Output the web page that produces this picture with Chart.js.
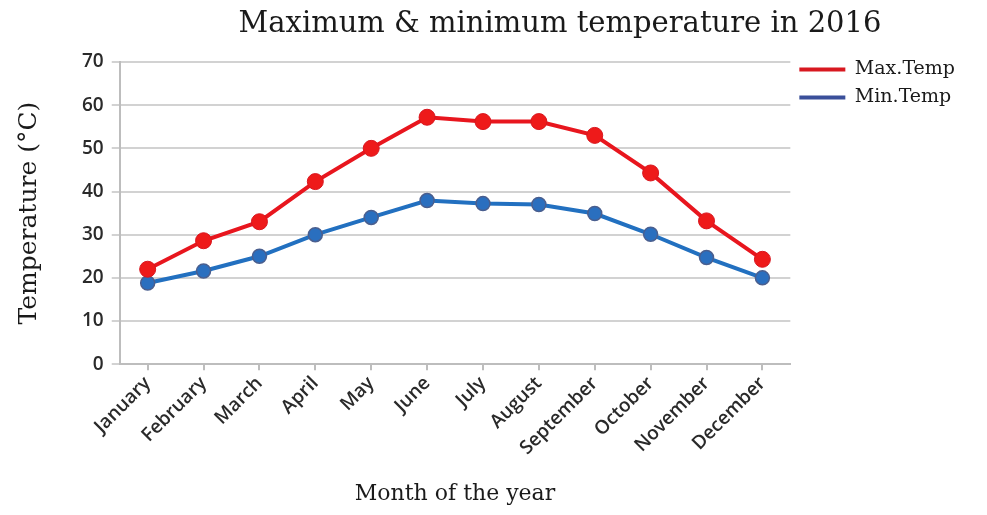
<!DOCTYPE html>
<html lang="en">
<head>
<meta charset="UTF-8">
<title>Maximum &amp; minimum temperature in 2016</title>
<script src="https://cdn.jsdelivr.net/npm/chart.js"></script>
<style>
  body { margin: 0; background: #fff; }
</style>
</head>
<body>
<canvas id="tempChart" width="987" height="515"></canvas>
<script>
// data
const months = ['January', 'February', 'March', 'April', 'May', 'June', 'July', 'August', 'September', 'October', 'November', 'December'];
const maxTemp = [22, 28.6, 33, 42.3, 50, 57.2, 56.2, 56.2, 53, 44.3, 33.2, 24.3];
const minTemp = [18.8, 21.6, 25, 30, 34, 37.9, 37.2, 37, 34.9, 30.1, 24.7, 20];
const chartTitle = 'Maximum & minimum temperature in 2016';

// title sits right of centre in the original, so draw it ourselves
const offsetTitle = {
    id: 'offsetTitle',
    afterLayout(chart) {
        // legend starts a bit above the plot in the original
        chart.legend.top -= 11;
        chart.legend.bottom -= 11;
    },
    afterDraw(chart) {
        const ctx = chart.ctx;
        ctx.save();
        ctx.font = '29px "DejaVu Serif"';
        ctx.fillStyle = '#1a1a1a';
        ctx.textAlign = 'center';
        ctx.textBaseline = 'middle';
        ctx.fillText(chartTitle, 560, 24);
        ctx.restore();
    }
};

const ctx = document.getElementById('tempChart').getContext('2d');
const tempChart = new Chart(ctx, {
    type: 'line',
    data: {
        labels: months,
        datasets: [{
            label: 'Max.Temp',
            data: maxTemp,
            borderColor: '#e8161e',
            backgroundColor: '#e8161e',
            pointBackgroundColor: '#ee1a1a',
            pointBorderColor: '#d8161e',
            borderWidth: 4,
            pointRadius: 8,
            pointBorderWidth: 1,
            tension: 0
        }, {
            label: 'Min.Temp',
            data: minTemp,
            borderColor: '#2270c0',
            backgroundColor: '#3a4f9a',
            pointBackgroundColor: '#2a6fbf',
            pointBorderColor: '#4a5f8f',
            borderWidth: 4,
            pointRadius: 7,
            pointBorderWidth: 1.5,
            tension: 0
        }]
    },
    options: {
        responsive: false,
        animation: false,
        layout: {
            padding: { top: 62, left: 14, right: 22, bottom: 4 }
        },
        plugins: {
            legend: {
                position: 'right',
                align: 'start',
                labels: {
                    usePointStyle: true,
                    pointStyle: 'line',
                    pointStyleWidth: 46,
                    boxHeight: 12,
                    padding: 9,
                    color: '#1a1a1a',
                    font: { family: '"DejaVu Serif"', size: 19 },
                    generateLabels(chart) {
                        const items = Chart.defaults.plugins.legend.labels.generateLabels(chart);
                        items.forEach(item => {
                            item.strokeStyle = item.datasetIndex === 0 ? '#d81820' : '#3a4f9a';
                            item.lineWidth = 4;
                        });
                        return items;
                    }
                }
            },
            tooltip: { enabled: false }
        },
        scales: {
            x: {
                offset: true,
                grid: {
                    display: true,
                    drawOnChartArea: false,
                    drawTicks: true,
                    tickLength: 6,
                    color: '#bdbdbd',
                    lineWidth: 2
                },
                border: { color: '#bdbdbd', width: 2 },
                ticks: {
                    minRotation: 45,
                    maxRotation: 45,
                    padding: 2,
                    color: '#2a2a2a',
                    font: { family: '"Open Sans"', size: 19, weight: '600' }
                },
                title: {
                    display: true,
                    text: 'Month of the year',
                    color: '#1a1a1a',
                    font: { family: '"DejaVu Serif"', size: 22 },
                    padding: { top: 19 }
                }
            },
            y: {
                min: 0,
                max: 70,
                ticks: {
                    stepSize: 10,
                    padding: 8,
                    color: '#2a2a2a',
                    font: { family: '"Open Sans"', size: 19, weight: '600' }
                },
                grid: {
                    color: '#d2d2d2',
                    lineWidth: 2,
                    tickLength: 8
                },
                border: { color: '#bdbdbd', width: 2 },
                title: {
                    display: true,
                    text: 'Temperature (\u00B0C)',
                    color: '#1a1a1a',
                    font: { family: '"DejaVu Serif"', size: 25 },
                    padding: { top: 0, bottom: 30 }
                }
            }
        }
    },
    plugins: [offsetTitle]
});
</script>
</body>
</html>
